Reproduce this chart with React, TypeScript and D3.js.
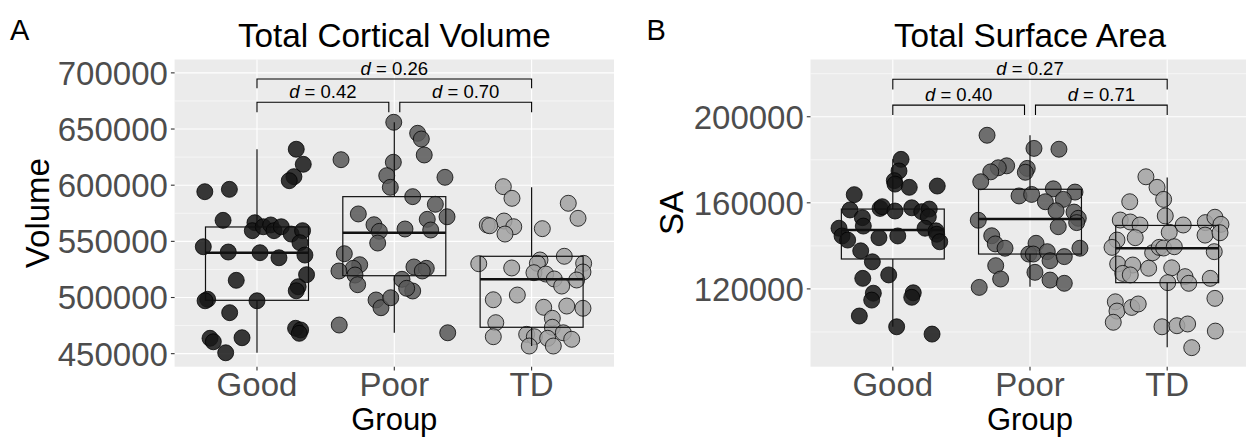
import React from 'react';
import * as d3 from 'd3';

// ---------- shared ----------
const groups = ['Good', 'Poor', 'TD'];

// ---------- Panel A: Total Cortical Volume ----------
const volGood = [632000, 618600, 607600, 604000, 594200, 596300, 568700, 566600, 559500, 563000, 564600, 559500, 563000, 556500, 559500, 548800, 545200, 540500, 539900, 535400, 537800, 520300, 515300, 509600, 506000, 498400, 497100, 497100, 486500, 472600, 471100, 468100, 463700, 460600, 464200, 450800];
const volGoodJitter = [0.286, 0.337, 0.269, 0.235, -0.38, -0.201, -0.247, -0.015, -0.034, 0.046, 0.1, 0.124, 0.177, 0.249, 0.332, 0.313, -0.391, -0.209, 0.022, 0.16, 0.349, 0.361, -0.151, 0.3, 0.286, -0.359, -0.378, 0.0, -0.199, 0.281, 0.318, 0.308, -0.342, -0.318, -0.109, -0.228];
const volPoor = [656000, 646200, 641100, 626900, 622700, 620400, 608500, 607000, 598100, 589800, 583000, 574400, 571900, 569600, 564800, 558900, 561000, 560100, 548500, 539000, 529200, 526000, 523600, 520000, 511400, 527200, 526000, 523600, 516200, 505800, 508200, 497800, 490900, 499800, 475500, 468600];
const volPoorJitter = [-0.004, 0.17, 0.197, 0.218, -0.388, -0.007, -0.055, 0.369, -0.029, 0.134, 0.299, -0.262, 0.384, 0.24, -0.148, -0.109, 0.078, 0.265, -0.121, -0.364, -0.252, -0.299, -0.403, -0.286, -0.267, 0.143, 0.233, 0.204, 0.056, 0.134, 0.09, -0.133, -0.097, -0.026, -0.401, 0.389];
const volTD = [598700, 588300, 583900, 570500, 568100, 564600, 563900, 563000, 556500, 561300, 530100, 526300, 533400, 530400, 536700, 530400, 522700, 522100, 520900, 516500, 510200, 515600, 498000, 502200, 491300, 492400, 490400, 477600, 481500, 473500, 465100, 467200, 465100, 463700, 456800, 456800, 468600, 462800];
const volTDJitter = [-0.206, -0.143, 0.267, 0.338, -0.201, -0.323, -0.305, -0.13, -0.194, 0.078, -0.385, -0.145, 0.061, 0.042, 0.238, 0.379, 0.374, 0.017, 0.103, 0.165, 0.219, 0.328, -0.279, -0.104, 0.088, 0.256, 0.374, -0.261, 0.151, 0.151, -0.279, -0.036, 0.02, 0.117, -0.017, 0.158, 0.231, 0.292];

const volWhiskerLow = [450800, 468600, 456800];
const volQ1 = [497500, 519400, 473500];
const volMedian = [539900, 557600, 516200];
const volQ3 = [562800, 589800, 536700];
const volWhiskerHigh = [632000, 656000, 598100];

const volDomain = [438400, 711900];
const volTicks = [450000, 500000, 550000, 600000, 650000, 700000];
const volMinorTicks = [475000, 525000, 575000, 625000, 675000];

const volBracketLabels = ['0.42', '0.70', '0.26'];
const volBracketStart = [0, 1.04, 0];
const volBracketEnd = [0.96, 2, 2];
const volBracketY = [673800, 673800, 694600];
const volBracketTip = [664900, 664900, 686300];

// ---------- Panel B: Total Surface Area ----------
const saGood = [180200, 174800, 170300, 168700, 167200, 167800, 163800, 156700, 153100, 157400, 158200, 156200, 157700, 155900, 157100, 153500, 148200, 149200, 144600, 142700, 143800, 144600, 148200, 147000, 145400, 141900, 137700, 132600, 124900, 126500, 118000, 114800, 118200, 116100, 107400, 102400, 99000];
const saGoodJitter = [0.06, 0.045, 0.011, 0.016, 0.12, 0.324, -0.281, -0.312, -0.222, -0.093, -0.077, 0.016, 0.138, 0.211, 0.266, 0.259, -0.392, -0.215, -0.37, -0.329, -0.101, 0.036, 0.235, 0.315, 0.32, 0.342, -0.234, -0.149, -0.219, -0.03, -0.142, -0.154, 0.149, 0.138, -0.244, 0.028, 0.286];
const saPoor = [191400, 185300, 184900, 177200, 176300, 174400, 176000, 174200, 169800, 163200, 163900, 166500, 165000, 160500, 161600, 156300, 155700, 152800, 150800, 151900, 148900, 144700, 140900, 138900, 141200, 136200, 136200, 137300, 133100, 135000, 138900, 130800, 124600, 120700, 127700, 124100, 122600];
const saPoorJitter = [-0.313, 0.029, 0.211, -0.17, -0.231, -0.286, -0.02, -0.034, -0.359, -0.08, 0.012, 0.17, 0.328, 0.112, 0.243, 0.19, 0.321, 0.352, 0.34, -0.377, 0.206, -0.279, -0.253, -0.182, 0.044, -0.009, 0.024, 0.126, 0.146, 0.25, 0.364, -0.25, -0.214, -0.37, 0.036, 0.146, 0.25];
const saTD = [172100, 167200, 161600, 160500, 153900, 152000, 151100, 149700, 149700, 150800, 153300, 150000, 145000, 146100, 146300, 142700, 143800, 139300, 136800, 139300, 139000, 139600, 137300, 131600, 131100, 127200, 126500, 129600, 129800, 125700, 122600, 122900, 124900, 115600, 114000, 109700, 111400, 113000, 104500, 102400, 102900, 103700, 100400, 92700];
const saTDJitter = [-0.155, -0.074, -0.026, -0.273, -0.014, -0.342, -0.269, -0.198, 0.117, 0.278, 0.348, 0.392, 0.276, 0.385, 0.015, -0.366, -0.233, -0.402, -0.106, -0.058, -0.026, 0.052, 0.343, -0.361, -0.251, -0.324, -0.269, -0.135, 0.033, 0.13, 0.157, 0.004, 0.314, 0.348, -0.378, -0.366, -0.259, -0.211, -0.393, -0.038, 0.071, 0.149, 0.351, 0.179];

const saWhiskerLow = [102400, 121000, 92900];
const saQ1 = [133900, 136200, 122900];
const saMedian = [147400, 152500, 138900];
const saQ3 = [157100, 166300, 149500];
const saWhiskerHigh = [180200, 191400, 171800];

const saDomain = [83850, 226600];
const saTicks = [120000, 160000, 200000];
const saMinorTicks = [100000, 140000, 180000, 220000];

const saBracketLabels = ['0.40', '0.71', '0.27'];
const saBracketStart = [0, 1.04, 0];
const saBracketEnd = [0.96, 2, 2];
const saBracketY = [205400, 205400, 217400];
const saBracketTip = [200800, 200800, 212700];

// ---------- drawing ----------
const FONT = "'Liberation Sans', Arial, Helvetica, sans-serif";
const FILLS = ['#161616', '#585858', '#a2a2a2'];
const TOP = 59.5;
const BOTTOM = 366.7;

type PanelDef = {
  tag: string; tagX: number; tagY: number;
  title: string; yTitle: string; yTitleX: number;
  left: number; right: number;
  values: number[][]; jitters: number[][];
  lo: number[]; q1: number[]; med: number[]; q3: number[]; hi: number[];
  domain: number[]; ticks: number[]; minor: number[];
  bStart: number[]; bEnd: number[]; bY: number[]; bTip: number[]; bLabels: string[];
};

function Panel({ p, id }: { p: PanelDef; id: string }) {
  const x = d3.scalePoint<string>().domain(groups).range([p.left, p.right]).padding(0.6);
  const step = x.step();
  const xi = (v: number) => (x(groups[0]) as number) + v * step;
  const y = d3.scaleLinear().domain(p.domain).range([BOTTOM, TOP]);
  const fmt = d3.format('d');
  const boxW = 0.75 * step;
  const tickLen = 3.7;
  const cx = (p.left + p.right) / 2;
  return (
    <g>
      <defs>
        <clipPath id={id}>
          <rect x={p.left} y={TOP} width={p.right - p.left} height={BOTTOM - TOP} />
        </clipPath>
      </defs>
      <rect x={p.left} y={TOP} width={p.right - p.left} height={BOTTOM - TOP} fill="#EBEBEB" />
      {p.minor.map((t) => (
        <line key={'mn' + t} x1={p.left} x2={p.right} y1={y(t)} y2={y(t)} stroke="#fff" strokeWidth={0.55} />
      ))}
      {p.ticks.map((t) => (
        <line key={'mj' + t} x1={p.left} x2={p.right} y1={y(t)} y2={y(t)} stroke="#fff" strokeWidth={1.1} />
      ))}
      {groups.map((g) => (
        <line key={'vx' + g} x1={x(g)} x2={x(g)} y1={TOP} y2={BOTTOM} stroke="#fff" strokeWidth={1.1} />
      ))}
      <g clipPath={`url(#${id})`}>
        {p.values.map((vals, gi) =>
          vals.map((v, i) => (
            <circle
              key={`pt${gi}-${i}`}
              cx={(x(groups[gi]) as number) + p.jitters[gi][i] * step}
              cy={y(v)}
              r={8}
              fill={FILLS[gi]}
              fillOpacity={0.85}
              stroke="#000"
              strokeOpacity={0.85}
              strokeWidth={0.9}
            />
          ))
        )}
        {groups.map((g, gi) => {
          const c = x(g) as number;
          return (
            <g key={'box' + g} stroke="#111" fill="none">
              <line x1={c} x2={c} y1={y(p.hi[gi])} y2={y(p.q3[gi])} strokeWidth={1.2} />
              <line x1={c} x2={c} y1={y(p.q1[gi])} y2={y(p.lo[gi])} strokeWidth={1.2} />
              <rect x={c - boxW / 2} y={y(p.q3[gi])} width={boxW} height={y(p.q1[gi]) - y(p.q3[gi])} strokeWidth={1.2} />
              <line x1={c - boxW / 2} x2={c + boxW / 2} y1={y(p.med[gi])} y2={y(p.med[gi])} strokeWidth={2.6} />
            </g>
          );
        })}
      </g>
      {p.bLabels.map((lab, i) => {
        const x1 = xi(p.bStart[i]);
        const x2 = xi(p.bEnd[i]);
        const yy = y(p.bY[i]);
        const yt = y(p.bTip[i]);
        return (
          <g key={'br' + i}>
            <path d={`M${x1},${yt}V${yy}H${x2}V${yt}`} fill="none" stroke="#000" strokeWidth={1.1} />
            <text x={(x1 + x2) / 2} y={yy - 4} textAnchor="middle" fontSize={18.5} fill="#000">
              <tspan fontStyle="italic">d</tspan> = {lab}
            </text>
          </g>
        );
      })}
      {/* y axis */}
      {p.ticks.map((t) => (
        <g key={'yt' + t}>
          <line x1={p.left - tickLen} x2={p.left} y1={y(t)} y2={y(t)} stroke="#333" strokeWidth={1.1} />
          <text x={p.left - tickLen - 3} y={y(t)} dy="0.36em" textAnchor="end" fontSize={33} fill="#4D4D4D">
            {fmt(t)}
          </text>
        </g>
      ))}
      {/* x axis */}
      {groups.map((g) => (
        <g key={'xt' + g}>
          <line x1={x(g)} x2={x(g)} y1={BOTTOM} y2={BOTTOM + tickLen} stroke="#333" strokeWidth={1.1} />
          <text x={x(g)} y={395.5} textAnchor="middle" fontSize={33} fill="#4D4D4D">{g}</text>
        </g>
      ))}
      <text x={cx} y={430.4} textAnchor="middle" fontSize={31} fill="#000">Group</text>
      <text
        transform={`translate(${p.yTitleX},${(TOP + BOTTOM) / 2}) rotate(-90)`}
        textAnchor="middle"
        fontSize={33}
        fill="#000"
      >
        {p.yTitle}
      </text>
      <text x={cx} y={47} textAnchor="middle" fontSize={33.3} fill="#000">{p.title}</text>
      <text x={p.tagX} y={p.tagY} fontSize={29} fill="#000">{p.tag}</text>
    </g>
  );
}

export default function App() {
  const panels: PanelDef[] = [
    {
      tag: 'A', tagX: 10, tagY: 40,
      title: 'Total Cortical Volume', yTitle: 'Volume', yTitleX: 49,
      left: 174.6, right: 614,
      values: [volGood, volPoor, volTD],
      jitters: [volGoodJitter, volPoorJitter, volTDJitter],
      lo: volWhiskerLow, q1: volQ1, med: volMedian, q3: volQ3, hi: volWhiskerHigh,
      domain: volDomain, ticks: volTicks, minor: volMinorTicks,
      bStart: volBracketStart, bEnd: volBracketEnd, bY: volBracketY, bTip: volBracketTip, bLabels: volBracketLabels,
    },
    {
      tag: 'B', tagX: 646.5, tagY: 39.5,
      title: 'Total Surface Area', yTitle: 'SA', yTitleX: 683,
      left: 810.5, right: 1249.5,
      values: [saGood, saPoor, saTD],
      jitters: [saGoodJitter, saPoorJitter, saTDJitter],
      lo: saWhiskerLow, q1: saQ1, med: saMedian, q3: saQ3, hi: saWhiskerHigh,
      domain: saDomain, ticks: saTicks, minor: saMinorTicks,
      bStart: saBracketStart, bEnd: saBracketEnd, bY: saBracketY, bTip: saBracketTip, bLabels: saBracketLabels,
    },
  ];
  return (
    <svg
      width={1246}
      height={437}
      viewBox="0 0 1246 437"
      style={{ position: 'absolute', left: 0, top: 0, background: '#fff', fontFamily: FONT }}
    >
      <rect x={0} y={0} width={1246} height={437} fill="#fff" />
      {panels.map((p, i) => (
        <Panel key={p.tag} p={p} id={'clip' + i} />
      ))}
    </svg>
  );
}
